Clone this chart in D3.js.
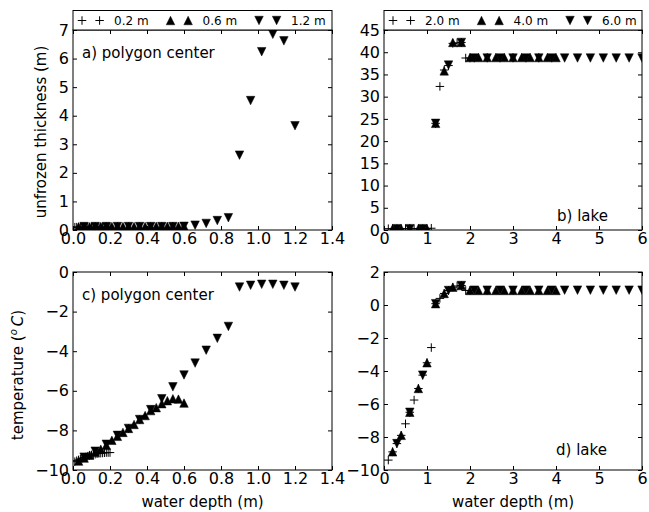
<!DOCTYPE html>
<html>
<head>
<meta charset="utf-8">
<script src="https://cdn.jsdelivr.net/npm/d3@7"></script>
<style>
  body { margin: 0; background: #fff; }
  text { font-family: 'DejaVu Sans', sans-serif; }
</style>
</head>
<body>
<div id="graf"></div>
<script>
// water depth grids (m)
const depthPolyPlus = [0.01, 0.02, 0.03, 0.04, 0.05, 0.06, 0.07, 0.08, 0.09, 0.10, 0.11, 0.12, 0.13, 0.14, 0.15, 0.16, 0.17, 0.18, 0.19, 0.20]
const depthPolyUp = [0.03, 0.06, 0.09, 0.12, 0.15, 0.18, 0.21, 0.24, 0.27, 0.30, 0.33, 0.36, 0.39, 0.42, 0.45, 0.48, 0.51, 0.54, 0.57, 0.60]
const depthPolyDown = [0.06, 0.12, 0.18, 0.24, 0.30, 0.36, 0.42, 0.48, 0.54, 0.60, 0.66, 0.72, 0.78, 0.84, 0.90, 0.96, 1.02, 1.08, 1.14, 1.20]
const depthLakePlus = [0.1, 0.2, 0.3, 0.4, 0.5, 0.6, 0.7, 0.8, 0.9, 1.0, 1.1, 1.2, 1.3, 1.4, 1.5, 1.6, 1.7, 1.8, 1.9, 2.0]
const depthLakeUp = [0.2, 0.4, 0.6, 0.8, 1.0, 1.2, 1.4, 1.6, 1.8, 2.0, 2.2, 2.4, 2.6, 2.8, 3.0, 3.2, 3.4, 3.6, 3.8, 4.0]
const depthLakeDown = [0.3, 0.6, 0.9, 1.2, 1.5, 1.8, 2.1, 2.4, 2.7, 3.0, 3.3, 3.6, 3.9, 4.2, 4.5, 4.8, 5.1, 5.4, 5.7, 6.0]

// unfrozen thickness (m)
const thickPolyPlus = [0.10, 0.10, 0.10, 0.10, 0.10, 0.10, 0.10, 0.10, 0.10, 0.10, 0.10, 0.10, 0.10, 0.10, 0.10, 0.10, 0.10, 0.10, 0.10, 0.10]
const thickPolyUp = [0.11, 0.11, 0.11, 0.12, 0.12, 0.12, 0.12, 0.12, 0.12, 0.12, 0.12, 0.12, 0.12, 0.12, 0.13, 0.13, 0.13, 0.13, 0.13, 0.13]
const thickPolyDown = [0.12, 0.12, 0.12, 0.12, 0.12, 0.12, 0.12, 0.12, 0.12, 0.13, 0.17, 0.23, 0.33, 0.43, 2.62, 4.53, 6.24, 6.85, 6.62, 3.65]
const thickLakePlus = [0.3, 0.3, 0.3, 0.3, 0.3, 0.3, 0.3, 0.3, 0.3, 0.3, 0.4, 24.0, 32.3, 36.0, 37.0, 42.0, 42.1, 42.2, 38.7, 38.7]
const thickLakeUp = [0.3, 0.3, 0.3, 0.3, 0.3, 24.0, 35.8, 42.2, 42.2, 38.8, 38.8, 38.8, 38.8, 38.8, 38.8, 38.8, 38.8, 38.8, 38.8, 38.8]
const thickLakeDown = [0.3, 0.3, 0.3, 24.0, 37.1, 42.2, 38.7, 38.7, 38.7, 38.7, 38.7, 38.7, 38.7, 38.7, 38.7, 38.7, 38.7, 38.7, 38.7, 38.7]

// temperature (deg C)
const tempPolyPlus = [-9.58, -9.53, -9.49, -9.45, -9.41, -9.37, -9.34, -9.30, -9.27, -9.24, -9.22, -9.20, -9.18, -9.16, -9.15, -9.14, -9.13, -9.12, -9.12, -9.12]
const tempPolyUp = [-9.55, -9.40, -9.25, -9.10, -8.95, -8.75, -8.50, -8.30, -8.10, -7.90, -7.70, -7.45, -7.25, -7.00, -6.85, -6.65, -6.50, -6.40, -6.42, -6.62]
const tempPolyDown = [-9.35, -9.05, -8.70, -8.25, -7.90, -7.45, -6.95, -6.40, -5.80, -5.20, -4.60, -3.95, -3.35, -2.75, -0.76, -0.67, -0.62, -0.62, -0.67, -0.76]
const tempLakePlus = [-9.40, -8.90, -8.40, -7.90, -7.20, -6.50, -5.76, -5.06, -4.25, -3.50, -2.58, 0.08, 0.40, 0.70, 0.88, 1.08, 1.15, 1.18, 0.88, 0.88]
const tempLakeUp = [-8.90, -7.90, -6.50, -5.06, -3.50, 0.08, 0.70, 1.08, 1.18, 0.88, 0.88, 0.88, 0.88, 0.88, 0.88, 0.88, 0.88, 0.88, 0.88, 0.88]
const tempLakeDown = [-8.40, -6.50, -4.25, 0.08, 0.88, 1.18, 0.90, 0.90, 0.90, 0.90, 0.90, 0.90, 0.90, 0.90, 0.90, 0.90, 0.90, 0.90, 0.90, 0.90]

// legend labels and ticks
const legendPoly = ['0.2 m', '0.6 m', '1.2 m']
const legendLake = ['2.0 m', '4.0 m', '6.0 m']
const ticksPolyX = [0, 0.2, 0.4, 0.6, 0.8, 1.0, 1.2, 1.4]
const ticksLakeX = [0, 1, 2, 3, 4, 5, 6]
const ticksThickPoly = [0, 1, 2, 3, 4, 5, 6, 7]
const ticksThickLake = [0, 5, 10, 15, 20, 25, 30, 35, 40, 45]
const ticksTempPoly = [-10, -8, -6, -4, -2, 0]
const ticksTempLake = [-10, -8, -6, -4, -2, 0, 2]

const anchoTotal = 649
const altoTotal = 512

const svg = d3.select('#graf')
  .append('svg')
  .attr('width', anchoTotal)
  .attr('height', altoTotal)

svg.append('rect')
  .attr('width', anchoTotal)
  .attr('height', altoTotal)
  .attr('fill', '#fff')

// marker shapes (matplotlib style, centred on bbox)
const simbolo = {
  plus: (s) => `M${-s / 2},0H${s / 2}M0,${-s / 2}V${s / 2}`,
  up: (s) => `M0,${-s / 2}L${s / 2},${s / 2}L${-s / 2},${s / 2}Z`,
  down: (s) => `M0,${s / 2}L${s / 2},${-s / 2}L${-s / 2},${-s / 2}Z`,
}

function marcador(sel, sym) {
  if (sym === 'plus') {
    sel.attr('d', simbolo.plus(8.5))
      .attr('fill', 'none')
      .attr('stroke', '#000')
      .attr('stroke-width', 1)
  } else {
    sel.attr('d', simbolo[sym](8.5))
      .attr('fill', '#000')
      .attr('stroke', '#000')
      .attr('stroke-width', 0.5)
  }
}

let nPanel = 0

function panel(cfg) {
  const id = 'clip' + nPanel++
  const ancho = cfg.x1 - cfg.x0
  const alto = cfg.y1 - cfg.y0

  const x = d3.scaleLinear().domain(cfg.xDomain).range([0, ancho])
  const y = d3.scaleLinear().domain(cfg.yDomain).range([alto, 0])

  const g = svg.append('g')
    .attr('transform', `translate(${cfg.x0}, ${cfg.y0})`)

  g.append('clipPath').attr('id', id)
    .append('rect')
    .attr('width', ancho)
    .attr('height', alto)

  // data
  const puntos = g.append('g').attr('clip-path', `url(#${id})`)
  cfg.series.forEach((s) => {
    const datos = s.xs.map((d, i) => ({ x: d, y: s.ys[i] }))
    puntos.append('g')
      .selectAll('path')
      .data(datos)
      .join('path')
      .attr('transform', (d) => `translate(${x(d.x)}, ${y(d.y)})`)
      .call(marcador, s.sym)
  })

  // axes with inward ticks on all sides
  const estilo = (sel) => {
    sel.select('.domain').remove()
    sel.attr('font-family', 'DejaVu Sans').attr('font-size', 16)
    sel.selectAll('line').attr('stroke', '#000').attr('stroke-width', 1)
    sel.selectAll('text').attr('fill', '#000')
  }

  g.append('g')
    .attr('transform', `translate(0, ${alto})`)
    .call(d3.axisBottom(x).tickValues(cfg.xTicks).tickSize(-4).tickPadding(3).tickFormat(cfg.xFmt))
    .call(estilo)
  g.append('g')
    .call(d3.axisTop(x).tickValues(cfg.xTicks).tickSize(-4).tickFormat(''))
    .call(estilo)
  g.append('g')
    .call(d3.axisLeft(y).tickValues(cfg.yTicks).tickSize(-4).tickPadding(4).tickFormat(d3.format('d')))
    .call(estilo)
  g.append('g')
    .attr('transform', `translate(${ancho}, 0)`)
    .call(d3.axisRight(y).tickValues(cfg.yTicks).tickSize(-4).tickFormat(''))
    .call(estilo)

  g.append('rect')
    .attr('width', ancho)
    .attr('height', alto)
    .attr('fill', 'none')
    .attr('stroke', '#000')
    .attr('stroke-width', 1)

  g.append('text')
    .attr('x', cfg.labelX)
    .attr('y', cfg.labelY)
    .attr('font-size', 15)
    .text(cfg.label)

  if (cfg.xTitle) {
    g.append('text')
      .attr('x', ancho / 2)
      .attr('y', alto + 37)
      .attr('text-anchor', 'middle')
      .attr('font-size', 15)
      .text(cfg.xTitle)
  }

  // legend box above the axes
  if (cfg.legend) {
    const lg = g.append('g').attr('transform', 'translate(0, -19.5)')
    lg.append('rect')
      .attr('width', ancho)
      .attr('height', 19.5)
      .attr('fill', '#fff')
      .attr('stroke', '#000')
      .attr('stroke-width', 1)
    cfg.legend.forEach((txt, i) => {
      const sym = cfg.series[i].sym
      const xi = 9 + 88.5 * i
      ;[xi, xi + 17.6].forEach((mx) => {
        lg.append('path')
          .attr('transform', `translate(${mx}, 10)`)
          .call(marcador, sym)
      })
      lg.append('text')
        .attr('x', xi + 32)
        .attr('y', 14.5)
        .attr('font-size', 12)
        .text(txt)
    })
  }
}

const izq = { x0: 73, x1: 332 }
const der = { x0: 384, x1: 642 }
const arriba = { y0: 30, y1: 230 }
const abajo = { y0: 272, y1: 470 }

panel({
  ...izq, ...arriba,
  xDomain: [0, 1.4], yDomain: [0, 7],
  xTicks: ticksPolyX, yTicks: ticksThickPoly, xFmt: d3.format('.1f'),
  series: [
    { xs: depthPolyPlus, ys: thickPolyPlus, sym: 'plus' },
    { xs: depthPolyUp, ys: thickPolyUp, sym: 'up' },
    { xs: depthPolyDown, ys: thickPolyDown, sym: 'down' },
  ],
  label: 'a) polygon center', labelX: 9, labelY: 28,
  legend: legendPoly,
})

panel({
  ...der, ...arriba,
  xDomain: [0, 6], yDomain: [0, 45],
  xTicks: ticksLakeX, yTicks: ticksThickLake, xFmt: d3.format('d'),
  series: [
    { xs: depthLakePlus, ys: thickLakePlus, sym: 'plus' },
    { xs: depthLakeUp, ys: thickLakeUp, sym: 'up' },
    { xs: depthLakeDown, ys: thickLakeDown, sym: 'down' },
  ],
  label: 'b) lake', labelX: 173, labelY: 191,
  legend: legendLake,
})

panel({
  ...izq, ...abajo,
  xDomain: [0, 1.4], yDomain: [-10, 0],
  xTicks: ticksPolyX, yTicks: ticksTempPoly, xFmt: d3.format('.1f'),
  series: [
    { xs: depthPolyPlus, ys: tempPolyPlus, sym: 'plus' },
    { xs: depthPolyUp, ys: tempPolyUp, sym: 'up' },
    { xs: depthPolyDown, ys: tempPolyDown, sym: 'down' },
  ],
  label: 'c) polygon center', labelX: 9, labelY: 28,
  xTitle: 'water depth (m)',
})

panel({
  ...der, ...abajo,
  xDomain: [0, 6], yDomain: [-10, 2],
  xTicks: ticksLakeX, yTicks: ticksTempLake, xFmt: d3.format('d'),
  series: [
    { xs: depthLakePlus, ys: tempLakePlus, sym: 'plus' },
    { xs: depthLakeUp, ys: tempLakeUp, sym: 'up' },
    { xs: depthLakeDown, ys: tempLakeDown, sym: 'down' },
  ],
  label: 'd) lake', labelX: 172, labelY: 183,
  xTitle: 'water depth (m)',
})

// y axis titles
svg.append('text')
  .attr('transform', 'translate(46, 132) rotate(-90)')
  .attr('text-anchor', 'middle')
  .attr('font-size', 15)
  .text('unfrozen thickness (m)')

const tTemp = svg.append('text')
  .attr('transform', 'translate(23, 375) rotate(-90)')
  .attr('text-anchor', 'middle')
  .attr('font-size', 15)
tTemp.append('tspan').text('temperature (')
tTemp.append('tspan').attr('font-style', 'italic').attr('font-size', 10).attr('dy', -6).text('o')
tTemp.append('tspan').attr('font-style', 'italic').attr('dy', 6).attr('dx', 3).text('C')
tTemp.append('tspan').text(')')
</script>
</body>
</html>
